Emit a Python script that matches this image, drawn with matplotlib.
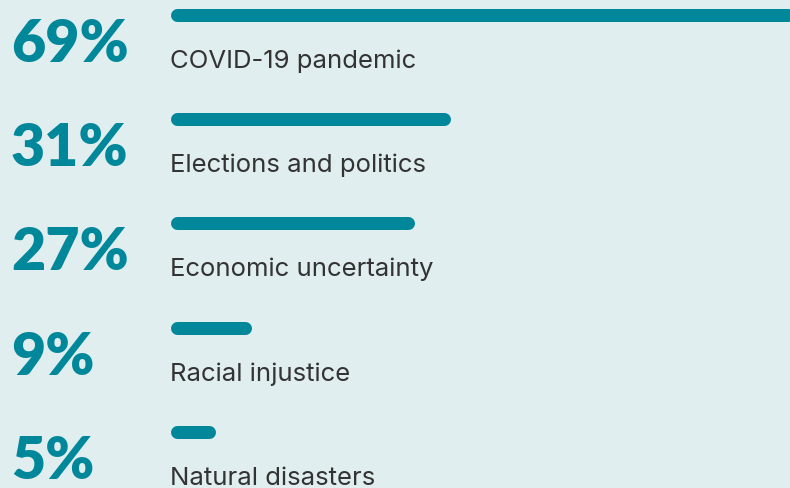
import matplotlib
matplotlib.use("Agg")
import matplotlib.pyplot as plt

categories = ["COVID-19 pandemic", "Elections and politics", "Economic uncertainty",
              "Racial injustice", "Natural disasters"]
values = [69, 31, 27, 9, 5]
pct_labels = ["69%", "31%", "27%", "9%", "5%"]

BG = "#e0eef0"
TEAL = "#00879a"
DARK = "#333333"

W, H = 790, 489
PX_PER_PCT = 9.05       # bar scale in pixels per percent
X0 = 170                # bar start in pixels
ROW = 104.2             # row spacing in pixels
Y0 = 16                 # first bar centre in pixels
BAR_PX = 13

fig = plt.figure(figsize=(W / 100, H / 100), dpi=100)
fig.patch.set_facecolor(BG)
ax = fig.add_axes([0, 0, 1, 1])
ax.set_facecolor(BG)
ax.set_xlim(-X0 / PX_PER_PCT, (W - X0) / PX_PER_PCT)
ax.set_ylim((H - Y0) / ROW, -Y0 / ROW)
ax.axis("off")

r = BAR_PX / 2 / PX_PER_PCT
lw_pt = BAR_PX * 72 / 100
for i, (cat, v, lab) in enumerate(zip(categories, values, pct_labels)):
    ax.plot([r, v - r], [i, i], color=TEAL, lw=lw_pt, solid_capstyle="round")
    ax.text(-(X0 - 11) / PX_PER_PCT, i + 46 / ROW, lab, color=TEAL, fontsize=42.5,
            fontweight="heavy", family="Lato", va="baseline", ha="left")
    ax.text(0, i + 52 / ROW, cat, color=DARK, fontsize=18.5, family="Inter",
            va="baseline", ha="left")

fig.savefig("out.png", dpi=100, facecolor=BG)
